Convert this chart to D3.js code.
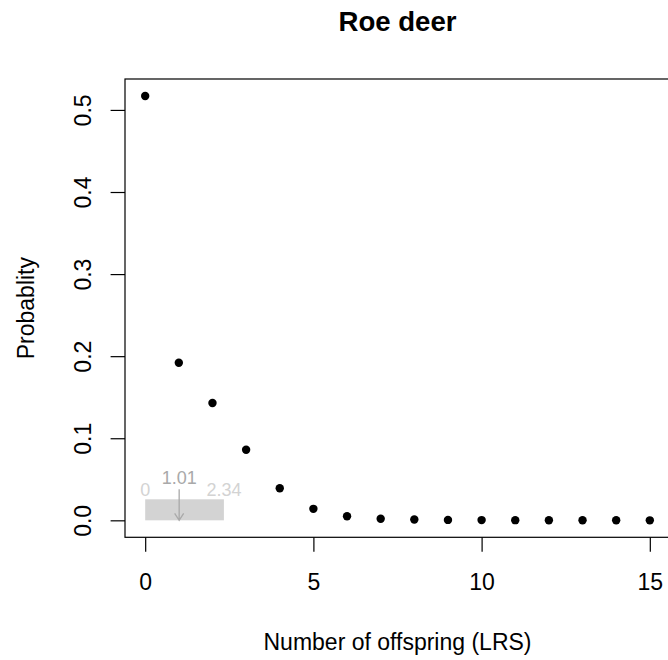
<!DOCTYPE html>
<html>
<head>
<meta charset="utf-8">
<script src="https://cdn.jsdelivr.net/npm/d3@7"></script>
<style>
  html, body { margin: 0; padding: 0; background: #fff; overflow: hidden; }
  svg { display: block; font-family: "Liberation Sans", Arial, Helvetica, sans-serif; }
</style>
</head>
<body>
<div id="chart"></div>
<script>
// data -----------------------------------------------------------------
const lrs = [0, 1, 2, 3, 4, 5, 6, 7, 8, 9, 10, 11, 12, 13, 14, 15];
const prob = [0.517, 0.192, 0.143, 0.086, 0.039, 0.014, 0.005, 0.002,
              0.001, 0.0005, 0.0003, 0.0002, 0.0001, 0.0001, 0.0001, 0.0];
const xTicks = [0, 5, 10, 15];
const yTicks = [0, 0.1, 0.2, 0.3, 0.4, 0.5];
const meanLRS = 1.01;
const ciLRS = [0, 2.34];
const title = 'Roe deer';
const xLabel = 'Number of offspring (LRS)';
const yLabel = 'Probablity';

// layout ---------------------------------------------------------------
const width = 668;
const height = 660;
const plot = {left: 125, right: 670, top: 79, bottom: 537.3};
const fontSize = 23;
const tickLen = 14.4;

const svg = d3.select('#chart').append('svg')
  .attr('width', width)
  .attr('height', height);

// R style 4% padding of data range
const pad = ext => {
  const d = (ext[1] - ext[0]) * 0.04;
  return [ext[0] - d, ext[1] + d];
};
const x = d3.scaleLinear().domain(pad(d3.extent(lrs))).range([plot.left, plot.right]);
const y = d3.scaleLinear().domain(pad(d3.extent(prob))).range([plot.bottom, plot.top]);

// axes -----------------------------------------------------------------
const xAxis = svg.append('g')
  .attr('transform', 'translate(0,' + plot.bottom + ')')
  .call(d3.axisBottom(x).tickValues(xTicks).tickSize(tickLen).tickFormat(d3.format('d')));
xAxis.select('.domain').remove();
xAxis.selectAll('line').attr('stroke', '#000').attr('stroke-width', 1.2);
xAxis.selectAll('text')
  .attr('y', 53.2).attr('dy', null)
  .attr('font-size', fontSize).attr('font-family', null).attr('fill', '#000');

const yAxis = svg.append('g')
  .attr('transform', 'translate(' + plot.left + ',0)')
  .call(d3.axisLeft(y).tickValues(yTicks).tickSize(tickLen).tickFormat(d3.format('.1f')));
yAxis.select('.domain').remove();
yAxis.selectAll('line').attr('stroke', '#000').attr('stroke-width', 1.2);
yAxis.selectAll('text')
  .attr('x', null).attr('dy', null)
  .attr('transform', 'translate(-34.5,0) rotate(-90)')
  .attr('text-anchor', 'middle')
  .attr('font-size', fontSize).attr('font-family', null).attr('fill', '#000');

// box
svg.append('rect')
  .attr('x', plot.left).attr('y', plot.top)
  .attr('width', plot.right - plot.left).attr('height', plot.bottom - plot.top)
  .attr('fill', 'none').attr('stroke', '#000').attr('stroke-width', 1.2);

// mean / interval annotation -------------------------------------------
const barTop = y(0.0256);
svg.append('rect')
  .attr('x', x(ciLRS[0])).attr('y', barTop)
  .attr('width', x(ciLRS[1]) - x(ciLRS[0]))
  .attr('height', y(0) - barTop)
  .attr('fill', '#d3d3d3');

svg.selectAll('.ci-label')
  .data(ciLRS)
  .enter().append('text')
  .attr('class', 'ci-label')
  .attr('x', d => x(d))
  .attr('y', barTop - 3.6)
  .attr('text-anchor', 'middle')
  .attr('font-size', 18)
  .attr('fill', '#d3d3d3')
  .text(d => d);

svg.append('text')
  .attr('x', x(meanLRS))
  .attr('y', barTop - 15)
  .attr('text-anchor', 'middle')
  .attr('font-size', 18)
  .attr('fill', '#a9a9a9')
  .text(d3.format('.2f')(meanLRS));

const ax = x(meanLRS);
const ay0 = barTop - 10;
const ay1 = y(0);
svg.append('path')
  .attr('d', 'M' + ax + ',' + ay0 + 'L' + ax + ',' + ay1
    + 'M' + (ax - 4.5) + ',' + (ay1 - 7) + 'L' + ax + ',' + ay1 + 'L' + (ax + 4.5) + ',' + (ay1 - 7))
  .attr('fill', 'none')
  .attr('stroke', '#a9a9a9')
  .attr('stroke-width', 1.3);

// points ---------------------------------------------------------------
svg.append('g').selectAll('circle')
  .data(lrs.map((d, i) => ({lrs: d, p: prob[i]})))
  .enter().append('circle')
  .attr('cx', d => x(d.lrs))
  .attr('cy', d => y(d.p))
  .attr('r', 4.2)
  .attr('fill', '#000');

// titles ---------------------------------------------------------------
svg.append('text')
  .attr('x', (plot.left + plot.right) / 2)
  .attr('y', 31)
  .attr('text-anchor', 'middle')
  .attr('font-size', 27.6)
  .attr('font-weight', 'bold')
  .text(title);

svg.append('text')
  .attr('x', (plot.left + plot.right) / 2)
  .attr('y', 650)
  .attr('text-anchor', 'middle')
  .attr('font-size', fontSize)
  .text(xLabel);

svg.append('text')
  .attr('transform', 'translate(34,' + (plot.top + plot.bottom) / 2 + ') rotate(-90)')
  .attr('text-anchor', 'middle')
  .attr('font-size', fontSize)
  .text(yLabel);
</script>
</body>
</html>
